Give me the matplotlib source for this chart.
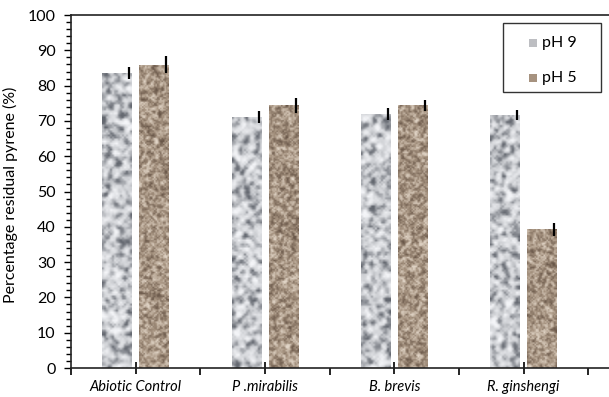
import numpy as np
import matplotlib
matplotlib.use("Agg")
import matplotlib.pyplot as plt
from matplotlib.patches import Rectangle
from matplotlib.ticker import MultipleLocator, FixedLocator, NullFormatter

categories = ["Abiotic Control", "P .mirabilis", "B. brevis", "R. ginshengi"]
ph9_values = [83.6, 71.1, 72.0, 71.6]
ph9_errors = [1.6, 1.6, 1.6, 1.4]
ph5_values = [85.9, 74.4, 74.4, 39.3]
ph5_errors = [2.4, 2.2, 1.6, 1.8]

plt.rcParams["font.family"] = ["Lato", "DejaVu Sans"]

GRAY = [(204, 206, 210), (100, 104, 112), (244, 245, 248)]
BROWN = [(166, 147, 128), (104, 86, 72), (226, 214, 200)]


def hash_noise(h, w, seed):
    # integer hash -> values in [0, 1), deterministic (texture only)
    yy, xx = np.mgrid[0:h, 0:w].astype(np.uint64)
    v = (xx * 374761393 + yy * 668265263 + seed * 2246822519) & 0xFFFFFFFF
    v = ((v ^ (v >> 13)) * 1274126177) & 0xFFFFFFFF
    v = v ^ (v >> 16)
    return v.astype(float) / 2**32


def granite(h, w, cols, seed, blur_mix, gain):
    n = hash_noise(h + 2, w + 2, seed)
    k = sum(np.roll(np.roll(n, dy, 0), dx, 1)
            for dy in (-1, 0, 1) for dx in (-1, 0, 1)) / 9
    k = (k - 0.5) * 3.0 + 0.5
    k = blur_mix * k + (1 - blur_mix) * n
    k = k[1:-1, 1:-1]
    base, dark, light = [np.array(c) / 255 for c in cols]
    t = np.clip((k - 0.5) * gain, -1, 1)[..., None]
    img = np.where(t < 0, base + (base - dark) * t, base + (light - base) * t)
    return np.clip(img, 0, 1)


fig = plt.figure(figsize=(6.09, 3.97), dpi=100)
ax = fig.add_axes([0.1166, 0.073, 0.8834, 0.889])

x = np.arange(len(categories)) + 0.5
width = 0.228
off = 0.143
err_shift = 0.095

bars9 = ax.bar(x - off, ph9_values, width, color="#bdbec2", zorder=2)
bars5 = ax.bar(x + off, ph5_values, width, color="#a6927f", zorder=2)

px_per_unit = 353 / 100.0
for bars, cols, step, s0, mix, gain in [(bars9, GRAY, 2, 1, 0.7, 1.9),
                                        (bars5, BROWN, 1.5, 20, 0.35, 1.8)]:
    for i, b in enumerate(bars):
        h = max(int(b.get_height() * px_per_unit / step), 2)
        w = max(int(30 / step), 2)
        tex = granite(h, w, cols, s0 + i, mix, gain)
        im = ax.imshow(tex, extent=(b.get_x(), b.get_x() + b.get_width(), 0, b.get_height()),
                       aspect="auto", zorder=2.5, interpolation="bilinear")
        im.set_clip_path(b)

ax.errorbar(x - off + err_shift, ph9_values, yerr=ph9_errors, fmt="none",
            ecolor="black", elinewidth=1.6, capsize=0, zorder=3)
ax.errorbar(x + off + err_shift, ph5_values, yerr=ph5_errors, fmt="none",
            ecolor="black", elinewidth=1.6, capsize=0, zorder=3)

ax.set_xlim(0, 4.16)
ax.set_ylim(0, 100)
ax.set_aspect("auto")

ax.yaxis.set_major_locator(MultipleLocator(10))
ax.yaxis.set_minor_locator(MultipleLocator(2))
ax.tick_params(axis="y", which="major", direction="out", length=5, width=1,
               labelsize=11.5, pad=6)
ax.tick_params(axis="y", which="minor", direction="out", length=3.5, width=1)

ax.xaxis.set_major_locator(FixedLocator([0, 1, 2, 3, 4]))
ax.xaxis.set_major_formatter(NullFormatter())
ax.xaxis.set_minor_locator(FixedLocator(list(x)))
ax.set_xticklabels(categories, minor=True, fontstyle="italic", fontsize=10.5)
ax.tick_params(axis="x", which="major", direction="out", length=5, width=1.2)
ax.tick_params(axis="x", which="minor", direction="inout", length=9, width=1.2, pad=4)

ax.set_ylabel("Percentage residual pyrene (%)", fontsize=11.5)
ax.yaxis.set_label_coords(-0.099, 0.49)

for s in ["left", "bottom", "top"]:
    ax.spines[s].set_linewidth(1.2)
    ax.spines[s].set_color("#222222")
ax.spines["right"].set_visible(False)

# legend box drawn in figure pixels to match the original layout
W, H = 609.0, 397.0
fig.patches.append(Rectangle((503 / W, 1 - 92 / H), 98 / W, 69 / H,
                             transform=fig.transFigure, fill=False,
                             edgecolor="#333333", linewidth=1.0))
for label, color, yc in [("pH 9", "#bdbec2", 43), ("pH 5", "#a6927f", 78)]:
    fig.patches.append(Rectangle((529 / W, 1 - (yc + 4) / H), 8 / W, 8 / H,
                                 transform=fig.transFigure, facecolor=color,
                                 edgecolor="none"))
    fig.text(542 / W, 1 - yc / H, label, fontsize=11.5, va="center", ha="left")

fig.savefig("out.png", dpi=100)
